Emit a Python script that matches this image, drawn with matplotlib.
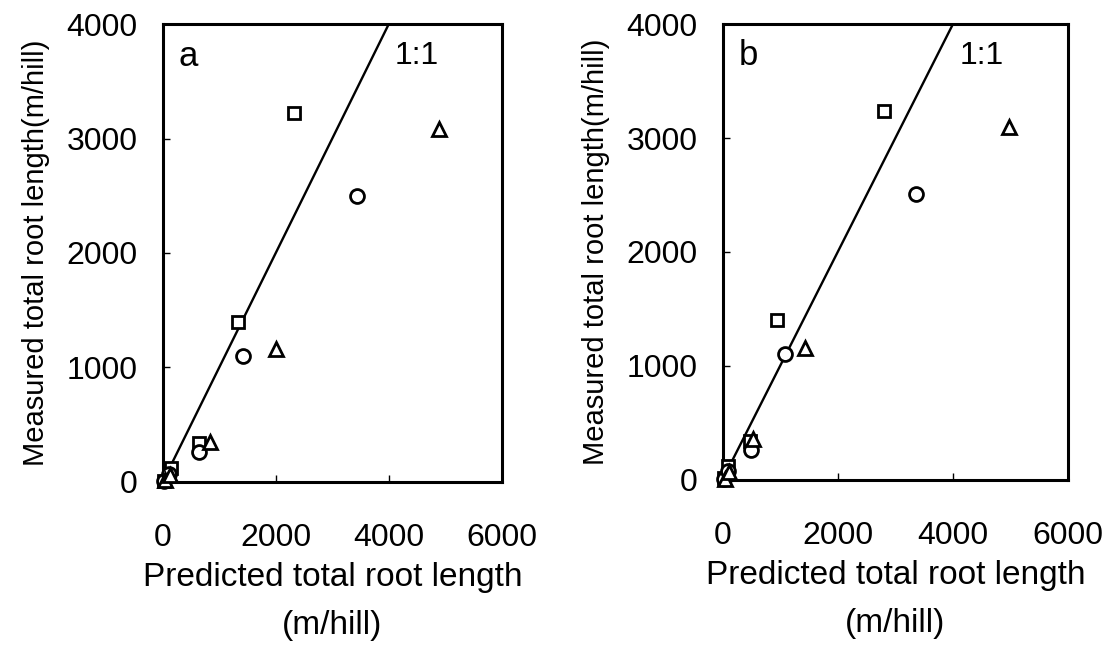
import matplotlib
matplotlib.use("Agg")
import matplotlib.pyplot as plt

plt.rcParams['font.family'] = ['Liberation Sans', 'DejaVu Sans']

# panel a - predicted vs measured total root length (m/hill)
a_sq_x = [30, 150, 640, 1330, 2320]
a_sq_y = [10, 120, 340, 1400, 3220]
a_ci_x = [20, 110, 640, 1420, 3440]
a_ci_y = [5, 70, 260, 1100, 2500]
a_tr_x = [40, 130, 840, 2000, 4890]
a_tr_y = [15, 60, 350, 1160, 3080]

# panel b
b_sq_x = [30, 90, 470, 950, 2800]
b_sq_y = [15, 118, 340, 1400, 3240]
b_ci_x = [20, 100, 490, 1090, 3350]
b_ci_y = [5, 80, 262, 1100, 2505]
b_tr_x = [40, 120, 530, 1430, 4970]
b_tr_y = [10, 70, 355, 1160, 3100]

one_to_one = [0, 4000]
xticks = [0, 2000, 4000, 6000]
yticks = [0, 1000, 2000, 3000, 4000]

fig = plt.figure(figsize=(11.15, 6.51), dpi=100)
ax_a = fig.add_axes([0.146, 0.260, 0.304, 0.703])
ax_b = fig.add_axes([0.648, 0.263, 0.310, 0.700])

panels = [
    (ax_a, 'a', a_sq_x, a_sq_y, a_ci_x, a_ci_y, a_tr_x, a_tr_y),
    (ax_b, 'b', b_sq_x, b_sq_y, b_ci_x, b_ci_y, b_tr_x, b_tr_y),
]

for ax, tag, sx, sy, cx, cy, tx, ty in panels:
    ax.plot(one_to_one, one_to_one, color='black', lw=1.7, zorder=1)
    mk = dict(linestyle='none', markerfacecolor='white', markeredgecolor='black',
              markeredgewidth=2.0, zorder=3, clip_on=False)
    ax.plot(sx, sy, marker='s', markersize=9, **mk)
    ax.plot(cx, cy, marker='o', markersize=10, **mk)
    ax.plot(tx, ty, marker='^', markersize=10, **mk)

    ax.set_xlim(0, 6000)
    ax.set_ylim(0, 4000)
    ax.set_xticks(xticks)
    ax.set_yticks(yticks)
    ax.tick_params(direction='in', length=5, width=1, labelsize=23)
    ax.tick_params(axis='x', pad=30)
    ax.tick_params(axis='y', pad=18)
    for s in ax.spines.values():
        s.set_linewidth(2.2)

    ax.set_xlabel('Predicted total root length\n(m/hill)', fontsize=24, linespacing=1.7, labelpad=6)
    ax.set_ylabel('Measured total root length(m/hill)', fontsize=21, labelpad=12)

    ax.text(0.075, 0.93, tag, transform=ax.transAxes, fontsize=25, ha='center', va='center')
    ax.text(0.75, 0.93, '1:1', transform=ax.transAxes, fontsize=23, ha='center', va='center')

fig.savefig('out.png', dpi=100, facecolor='white')
